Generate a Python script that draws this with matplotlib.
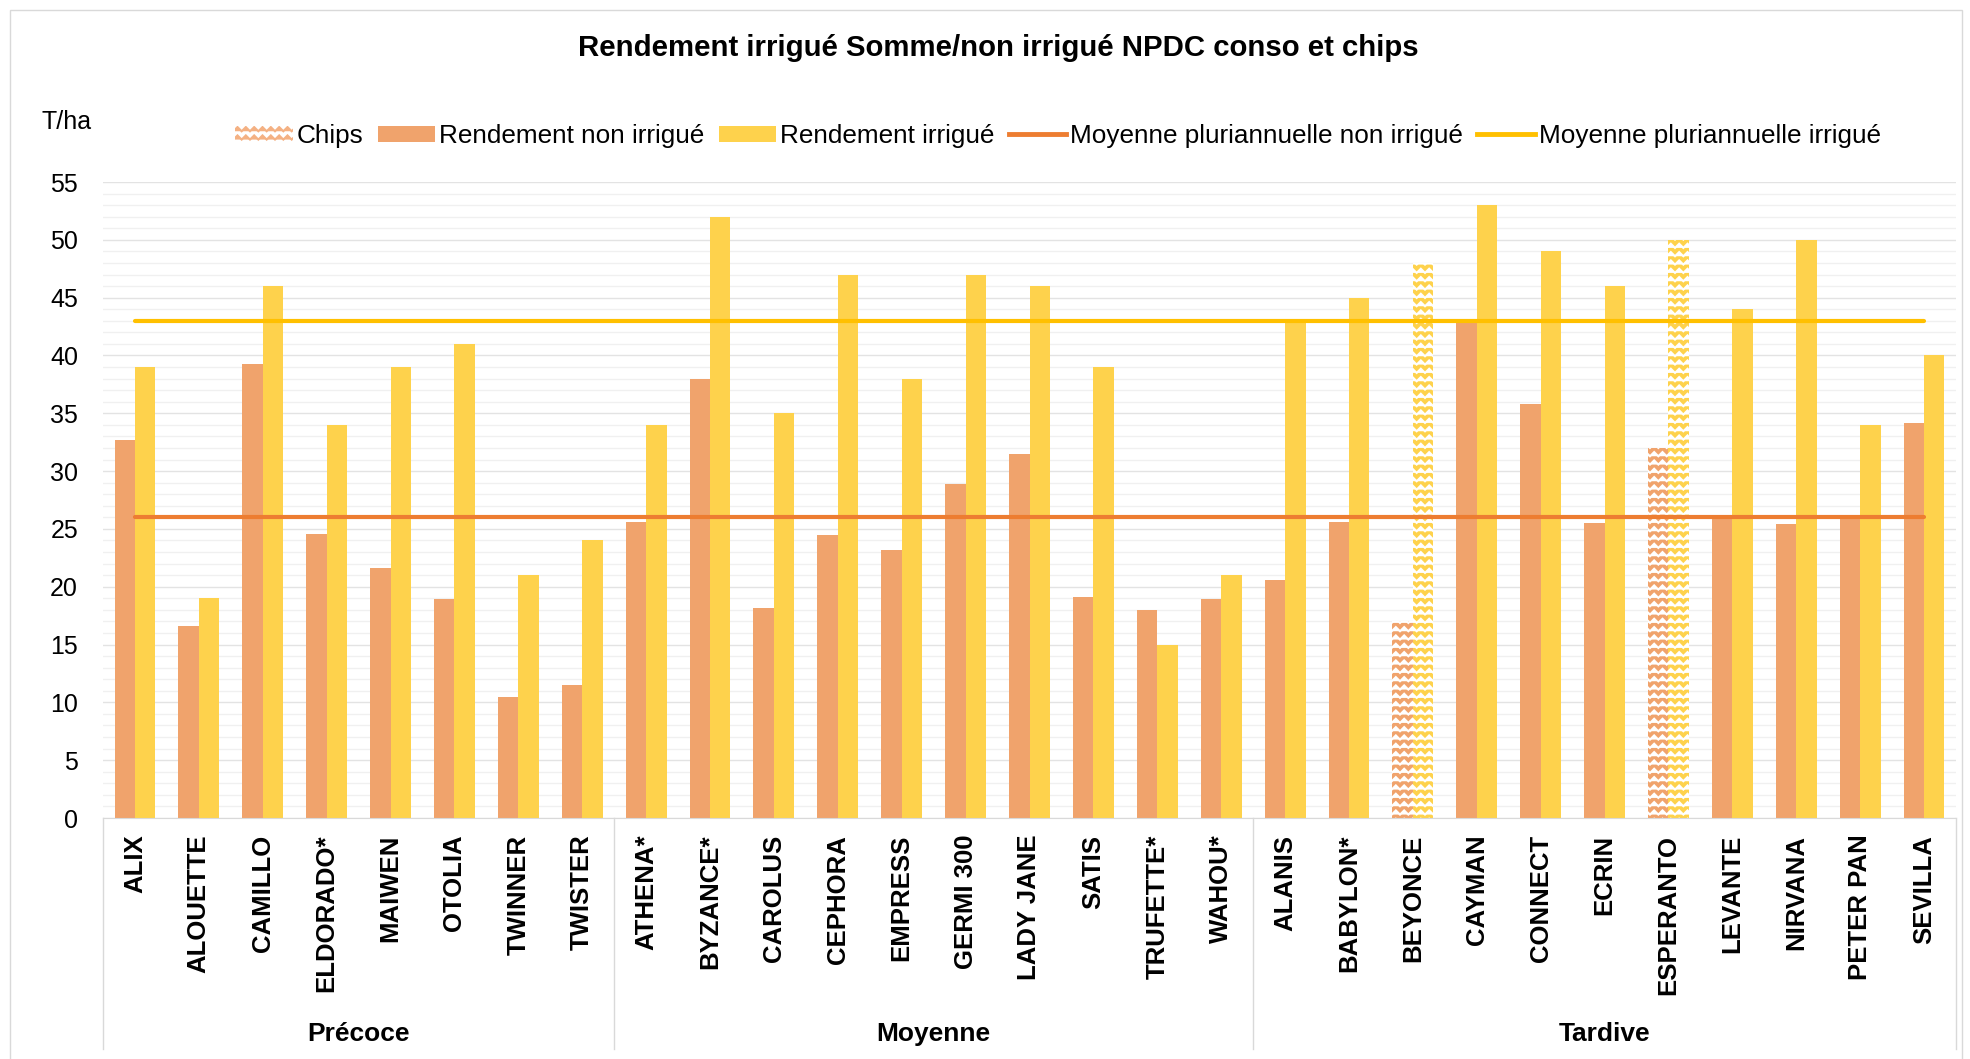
import warnings
import numpy as np
import matplotlib
matplotlib.use('Agg')
import matplotlib.pyplot as plt
import matplotlib.hatch as mhatch
import matplotlib.transforms as mtransforms
from matplotlib.path import Path
from matplotlib.patches import Patch, Rectangle
from matplotlib.lines import Line2D

warnings.filterwarnings('ignore')

# Data
groups = ['Précoce', 'Moyenne', 'Tardive']
varieties = [
    ['ALIX', 'ALOUETTE', 'CAMILLO', 'ELDORADO*', 'MAIWEN', 'OTOLIA', 'TWINNER', 'TWISTER'],
    ['ATHENA*', 'BYZANCE*', 'CAROLUS', 'CEPHORA', 'EMPRESS', 'GERMI 300', 'LADY JANE',
     'SATIS', 'TRUFETTE*', 'WAHOU*'],
    ['ALANIS', 'BABYLON*', 'BEYONCE', 'CAYMAN', 'CONNECT', 'ECRIN', 'ESPERANTO',
     'LEVANTE', 'NIRVANA', 'PETER PAN', 'SEVILLA'],
]
non_irrigue = [32.7, 16.6, 39.3, 24.6, 21.6, 18.9, 10.5, 11.5,
               25.6, 38.0, 18.2, 24.5, 23.2, 28.9, 31.5, 19.1, 18.0, 18.9,
               20.6, 25.6, 17.0, 43.0, 35.8, 25.5, 32.0, 26.0, 25.4, 26.2, 34.2]
irrigue = [39, 19, 46, 34, 39, 41, 21, 24,
           34, 52, 35, 47, 38, 47, 46, 39, 15, 21,
           43, 45, 48, 53, 49, 46, 50, 44, 50, 34, 40]
chips = ['BEYONCE', 'ESPERANTO']
moy_non_irrigue = 26
moy_irrigue = 43

c_orange = '#F0A36C'
c_yellow = '#FED24C'
c_line_orange = '#ED7D31'
c_line_yellow = '#FFC000'


# wavy (zigzag) hatch, like the Excel "wave" pattern
class ZigZagHatch(mhatch.HatchPatternBase):
    def __init__(self, hatch, density):
        self.num_lines = int(hatch.count('z') * density)
        self.n_pts = 2 * 12 + 1
        self.num_vertices = self.num_lines * self.n_pts

    def set_vertices_and_codes(self, vertices, codes):
        n = self.n_pts
        xs = np.linspace(0, 1, n)
        amp = 0.25 / self.num_lines
        sign = np.where(np.arange(n) % 2 == 0, -1.0, 1.0)
        for i in range(self.num_lines):
            y0 = (i + 0.5) / self.num_lines
            vertices[i * n:(i + 1) * n, 0] = xs
            vertices[i * n:(i + 1) * n, 1] = y0 + amp * sign
            codes[i * n] = Path.MOVETO
            codes[i * n + 1:(i + 1) * n] = Path.LINETO


mhatch._hatch_types.append(ZigZagHatch)

plt.rcParams['font.family'] = ['Liberation Sans', 'DejaVu Sans']
plt.rcParams['hatch.linewidth'] = 1.5

categories = [v for g in varieties for v in g]
x = np.arange(len(categories))
is_chips = np.array([c in chips for c in categories])

fig = plt.figure(figsize=(19.7, 10.59), dpi=100)
ax = fig.add_axes([103 / 1970, 1 - 818 / 1059, (1956 - 103) / 1970, (818 - 182) / 1059])

w = 0.32
non = np.array(non_irrigue)
irr = np.array(irrigue)
ax.bar(x[~is_chips] - w / 2, non[~is_chips], w, color=c_orange, zorder=2)
ax.bar(x[~is_chips] + w / 2, irr[~is_chips], w, color=c_yellow, zorder=2)
ax.bar(x[is_chips] - w / 2, non[is_chips], w, color=c_orange, edgecolor='white',
       linewidth=0, hatch='zz', zorder=2)
ax.bar(x[is_chips] + w / 2, irr[is_chips], w, color=c_yellow, edgecolor='white',
       linewidth=0, hatch='zz', zorder=2)

ax.plot(x, [moy_non_irrigue] * len(x), color=c_line_orange, lw=3, solid_capstyle='round', zorder=3)
ax.plot(x, [moy_irrigue] * len(x), color=c_line_yellow, lw=3, solid_capstyle='round', zorder=3)

ax.set_xlim(-0.5, len(x) - 0.5)
ax.set_ylim(0, 55)
ax.set_yticks(np.arange(0, 56, 5))
ax.set_yticks(np.arange(0, 56, 1), minor=True)
ax.grid(axis='y', which='major', color='#E3E3E3', lw=1, zorder=0)
ax.grid(axis='y', which='minor', color='#F0F0F0', lw=1, zorder=0)
ax.set_axisbelow(True)
for s in ['top', 'right', 'left']:
    ax.spines[s].set_visible(False)
ax.spines['bottom'].set_color('#D9D9D9')
ax.tick_params(axis='y', which='both', length=0, pad=18, labelsize=18)
ax.set_xticks(x)
ax.set_xticklabels(categories, rotation=90, fontsize=18.5, fontweight='bold')
ax.tick_params(axis='x', length=0, pad=12)

# group separators and group labels
trans = mtransforms.blended_transform_factory(ax.transData, ax.transAxes)
bounds = np.cumsum([0] + [len(g) for g in varieties]) - 0.5
for b in bounds:
    ax.plot([b, b], [0, -0.363], color='#D9D9D9', lw=1, transform=trans, clip_on=False)
for i, g in enumerate(groups):
    ax.text((bounds[i] + bounds[i + 1]) / 2, -0.34, g, transform=trans, ha='center',
            va='center', fontsize=19, fontweight='bold')

ax.text(41 / 1970, 1 - 122 / 1059, 'T/ha', transform=fig.transFigure, fontsize=18,
        ha='left', va='center')
fig.text(998 / 1970, 1 - 48 / 1059, 'Rendement irrigué Somme/non irrigué NPDC conso et chips',
         ha='center', va='center', fontsize=21.2, fontweight='bold')

handles = [
    Patch(facecolor='white', edgecolor='#F4B183', linewidth=0, hatch='zz'),
    Patch(facecolor=c_orange),
    Patch(facecolor=c_yellow),
    Line2D([], [], color=c_line_orange, lw=3.5),
    Line2D([], [], color=c_line_yellow, lw=3.5),
]
labels = ['Chips', 'Rendement non irrigué', 'Rendement irrigué',
          'Moyenne pluriannuelle non irrigué', 'Moyenne pluriannuelle irrigué']
fig.legend(handles, labels, loc='center', bbox_to_anchor=(1058 / 1970, 1 - 136 / 1059),
           ncol=5, frameon=False, fontsize=18.8, handlelength=2.2, handleheight=0.6,
           handletextpad=0.15, columnspacing=0.55)

fig.patches.append(Rectangle((10 / 1970, -0.01), 1952 / 1970, 1 - 10 / 1059 + 0.01,
                             transform=fig.transFigure, fill=False, edgecolor='#D9D9D9', lw=1))

fig.savefig('out.png', dpi=100)
